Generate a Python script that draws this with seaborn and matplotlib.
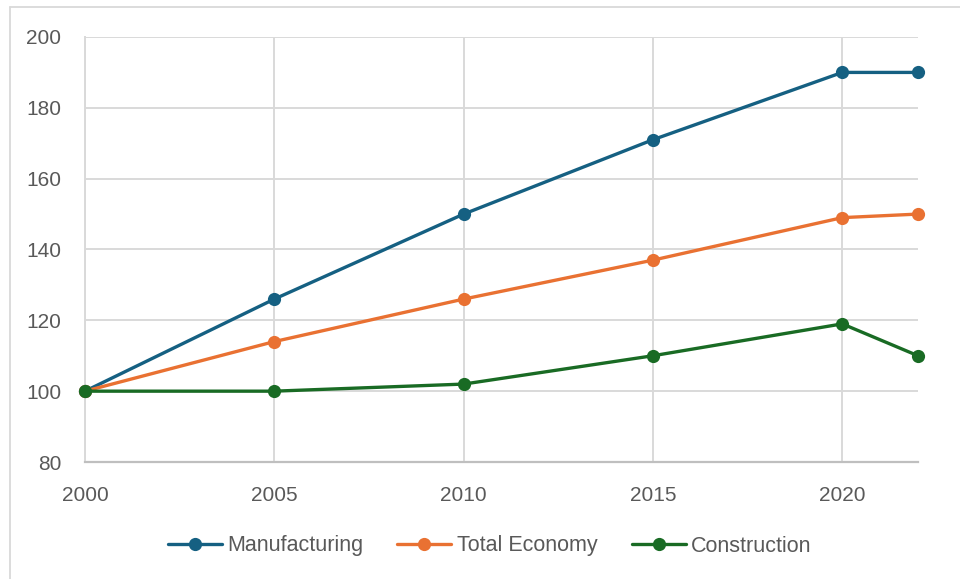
import matplotlib
matplotlib.use("Agg")
import matplotlib.pyplot as plt
from matplotlib.lines import Line2D
import seaborn as sns
import pandas as pd

years = [2000, 2005, 2010, 2015, 2020, 2022]
manufacturing = [100, 126, 150, 171, 190, 190]
total_economy = [100, 114, 126, 137, 149, 150]
construction = [100, 100, 102, 110, 119, 110]
series_names = ["Manufacturing", "Total Economy", "Construction"]
colors = ["#156082", "#E97132", "#196B24"]
x_ticks = [2000, 2005, 2010, 2015, 2020]
y_ticks = [80, 100, 120, 140, 160, 180, 200]

df = pd.concat([
    pd.DataFrame({"Year": years, "Value": vals, "Series": name})
    for name, vals in zip(series_names, [manufacturing, total_economy, construction])
])

sns.set_theme(style="white")
plt.rcParams["font.family"] = ["Liberation Sans", "DejaVu Sans"]

fig = plt.figure(figsize=(9.6, 5.79), dpi=100)
ax = fig.add_axes([85/960, 1-462/579, (918-85)/960, (462-37)/579])

sns.lineplot(data=df, x="Year", y="Value", hue="Series", hue_order=series_names,
             palette=colors, marker="o", markersize=9.5, markeredgewidth=0,
             linewidth=2.4, ax=ax, legend=False, zorder=3)
for ln in ax.lines:
    ln.set_clip_on(False)

ax.set_xlim(2000, 2022)
ax.set_ylim(80, 200)
ax.set_xticks(x_ticks)
ax.set_yticks(y_ticks)
ax.set_xlabel("")
ax.set_ylabel("")
ax.grid(True, color="#D9D9D9", linewidth=1.4, zorder=0)
ax.set_axisbelow(True)
for s in ["top", "right"]:
    ax.spines[s].set_visible(False)
ax.spines["left"].set_color("#D9D9D9")
ax.spines["left"].set_linewidth(1.4)
ax.spines["bottom"].set_color("#BFBFBF")
ax.spines["bottom"].set_linewidth(1.6)
ax.tick_params(axis="both", length=0, labelsize=15, labelcolor="#595959")
ax.tick_params(axis="x", pad=17)
ax.tick_params(axis="y", pad=17)

handles = [Line2D([0], [0], color=c, linewidth=2.4, marker="o", markersize=9.5,
                  markeredgewidth=0) for c in colors]
leg = fig.legend(handles, series_names, loc="center", bbox_to_anchor=(0.51, 1-546/579),
                 ncol=3, frameon=False, handlelength=2.5, handletextpad=0.25,
                 columnspacing=1.6,
                 prop={"family": ["Liberation Sans", "DejaVu Sans"], "size": 15.5})
for t in leg.get_texts():
    t.set_color("#595959")

# outer chart border
fig.add_artist(Line2D([10/960, 10/960], [0, 1-7/579], color="#D9D9D9", linewidth=1.3,
                      transform=fig.transFigure))
fig.add_artist(Line2D([10/960, 1], [1-7/579, 1-7/579], color="#D9D9D9", linewidth=1.3,
                      transform=fig.transFigure))

fig.savefig("out.png", dpi=100, facecolor="white")
